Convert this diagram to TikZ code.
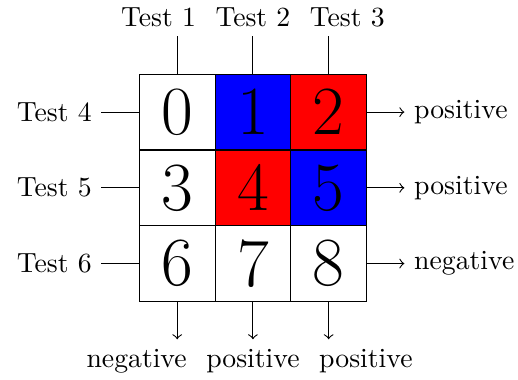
\documentclass[tikz,border=0pt]{standalone}
\usetikzlibrary{positioning}
\tikzset{
  cell/.style={draw, fill=#1, minimum size=0.96cm, inner sep=0pt, font=\Huge},
  cell/.default=white,
  arrow/.style={->},
}
\begin{document}
\begin{tikzpicture}[x=0.96cm, y=0.96cm]
  \useasboundingbox (-1.84,-1.03) rectangle (5.0,3.98);
  % the 3x3 grid
  \node[cell] (c0) at (0.5,2.5) {0};
  \node[cell=blue] (c1) at (1.5,2.5) {1};
  \node[cell=red] (c2) at (2.5,2.5) {2};
  \node[cell] (c3) at (0.5,1.5) {3};
  \node[cell=red] (c4) at (1.5,1.5) {4};
  \node[cell=blue] (c5) at (2.5,1.5) {5};
  \node[cell] (c6) at (0.5,0.5) {6};
  \node[cell] (c7) at (1.5,0.5) {7};
  \node[cell] (c8) at (2.5,0.5) {8};
  % tests on the columns
  \coordinate (a1) at (0.5,3.5);
  \coordinate (a2) at (1.5,3.5);
  \coordinate (a3) at (2.5,3.5);
  \draw (c0.north) -- (a1); \draw (c1.north) -- (a2); \draw (c2.north) -- (a3);
  \node[above=0pt of a2] (t2) {Test 2};
  \node[left=0pt of t2] (t1) {Test 1};
  \node[right=0pt of t2] (t3) {Test 3};
  % tests on the rows
  \coordinate (b4) at (-0.5,2.5);
  \coordinate (b5) at (-0.5,1.5);
  \coordinate (b6) at (-0.5,0.5);
  \draw (b4) -- (c0.west); \draw (b5) -- (c3.west); \draw (b6) -- (c6.west);
  \node[left=0pt of b4] (t4) {Test 4};
  \node[left=0pt of b5] (t5) {Test 5};
  \node[left=0pt of b6] (t6) {Test 6};
  % outcomes of the rows
  \coordinate (r0) at (3.5,2.5);
  \coordinate (r1) at (3.5,1.5);
  \coordinate (r2) at (3.5,0.5);
  \draw[arrow] (c2.east) -- (r0); \draw[arrow] (c5.east) -- (r1); \draw[arrow] (c8.east) -- (r2);
  \node[right=0pt of r0] (o0) {positive};
  \node[right=0pt of r1] (o1) {positive};
  \node[right=0pt of r2] (o2) {negative};
  % outcomes of the columns
  \coordinate (d0) at (0.5,-0.5);
  \coordinate (d1) at (1.5,-0.5);
  \coordinate (d2) at (2.5,-0.5);
  \draw[arrow] (c6.south) -- (d0); \draw[arrow] (c7.south) -- (d1); \draw[arrow] (c8.south) -- (d2);
  \node[below=0pt of d1] (p1) {positive};
  \node[left=0pt of p1] (p0) {negative};
  \node[right=0pt of p1] (p2) {positive};
\end{tikzpicture}
\end{document}
